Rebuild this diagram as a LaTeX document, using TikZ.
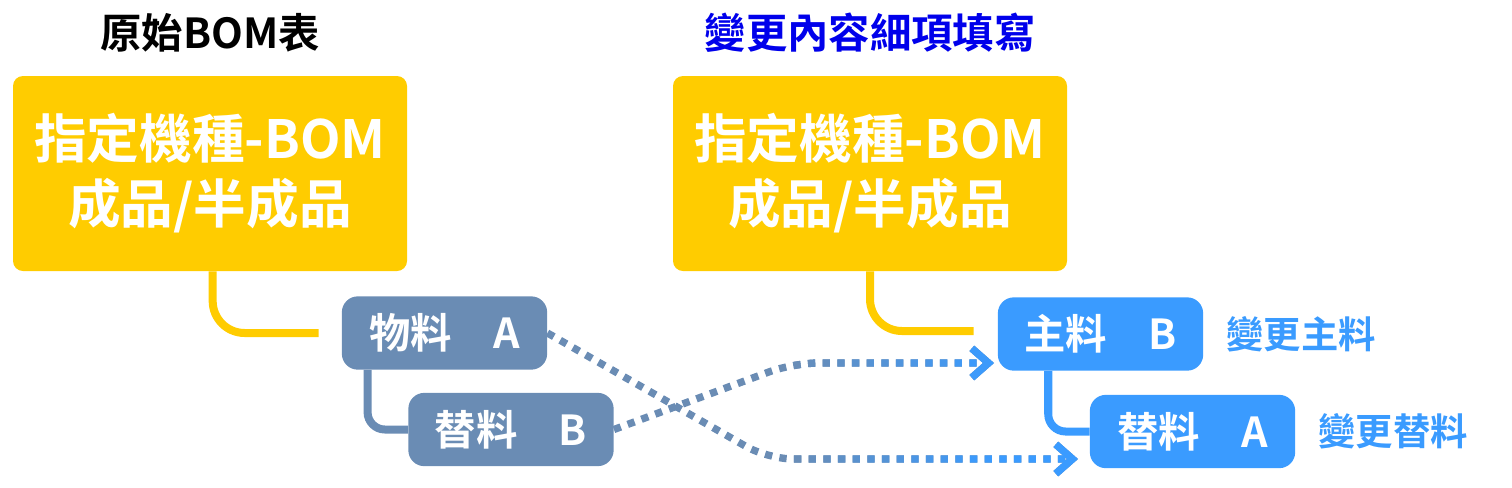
\documentclass[tikz,border=0pt]{standalone}
\usepackage{fontspec}
\setmainfont{Noto Sans CJK TC}[BoldFont={Noto Sans CJK TC Bold}]
\usetikzlibrary{arrows.meta,positioning,calc}

\definecolor{bomyellow}{RGB}{255,204,0}
\definecolor{matgray}{RGB}{106,140,180}
\definecolor{mainblue}{RGB}{58,155,255}
\definecolor{titleblue}{RGB}{0,0,235}

\tikzset{
	titletext/.style={inner sep=0pt, font=\fontsize{31pt}{31pt}\selectfont\bfseries},
	bombox/.style={fill=bomyellow, rounded corners=7.5pt,
		minimum width=295.5pt, minimum height=146.25pt,
		inner sep=0pt, text=white, align=center,
		font=\fontsize{39.5pt}{48.75pt}\selectfont\bfseries},
	matbox/.style={rounded corners=12pt,
		minimum width=154pt, minimum height=55pt,
		inner sep=0pt, text=white,
		font=\fontsize{31pt}{31pt}\selectfont\bfseries},
	changetext/.style={inner sep=0pt, text=mainblue,
		font=\fontsize{28pt}{28pt}\selectfont\bfseries},
	bomline/.style={draw=bomyellow, line width=6pt, rounded corners=24pt},
	treeline/.style={line width=6pt, rounded corners=13pt},
	swapline/.style={draw=matgray, line width=5.5pt, rounded corners=19pt,
		dash pattern=on 5.5pt off 5.5pt,
		-{Straight Barb[length=12.5pt,width=22pt]}}
}

\newcommand\swapdown{(matA.east) -- (downbend) -- (tipA)}
\newcommand\swapup{(subB.east) -- (upbend) -- (tipB)}

\begin{document}
\begin{tikzpicture}[x=0.75pt,y=-0.75pt]
	\useasboundingbox (0,0) rectangle (1512,487);
	% titles
	\node[titletext] (titleL) at (210,33) {原始BOM表};
	\node[titletext, text=titleblue] (titleR) at (870,33) {變更內容細項填寫};
	% yellow boxes
	\node[bombox] (bomL) at (210,173.5) {指定機種-BOM\\成品/半成品};
	\node[bombox] (bomR) at (870,173.5) {指定機種-BOM\\成品/半成品};
	% original materials
	\node[matbox, fill=matgray] (matA) at (444.5,333) {物料　A};
	\node[matbox, fill=matgray] (subB) at (511,429.5) {替料　B};
	% changed materials
	\node[matbox, fill=mainblue] (mainB) at (1100.5,334) {主料　B};
	\node[matbox, fill=mainblue] (subA) at (1192.5,431.5) {替料　A};
	\node[changetext, right=17pt of mainB] (chgMain) {變更主料};
	\node[changetext, right=17pt of subA] (chgSub) {變更替料};
	% Lines
	\draw[bomline] ([xshift=2pt]bomL.south) |- ($(matA.west)+(-23,0)$);
	\draw[bomline] (bomR.south) |- ($(mainB.west)+(-24,-3)$);
	\draw[treeline, draw=matgray] ([xshift=19.5pt]matA.south west) |- (subB.west);
	\draw[treeline, draw=mainblue] ([xshift=38pt]mainB.south west) |- (subA.west);
	% swap arrows
	\coordinate (downbend) at (768,459);
	\coordinate (tipA) at (1078,459);
	\coordinate (upbend) at (793,363);
	\coordinate (tipB) at (994,363);
	\draw[swapline] \swapdown;
	\draw[swapline] \swapup;
	\foreach \k in {0,...,14}{
		\pgfmathsetmacro\mixpct{min(100,(\k+0.5)*10)}
		\begin{scope}
			\clip (790+20*\k,300) rectangle ++(20,190);
			\draw[swapline, draw=mainblue!\mixpct!matgray] \swapdown;
			\draw[swapline, draw=mainblue!\mixpct!matgray] \swapup;
		\end{scope}
	}
\end{tikzpicture}
\end{document}
